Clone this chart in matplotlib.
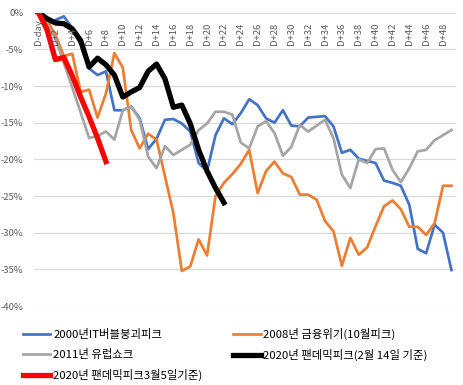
import matplotlib
matplotlib.use("Agg")
import matplotlib.pyplot as plt

plt.rcParams['font.family'] = ['Noto Sans CJK KR', 'DejaVu Sans']

# 데이터 (D-day 대비 하락률, %)
days = list(range(50))
x_labels = ["D-day"] + [f"D+{d}" for d in range(2, 50, 2)]

it_bubble_2000 = [0, -1.5, -1.0, -0.5, -2.1, -4.4, -7.6, -8.5, -8.0, -13.3,
                  -13.3, -12.8, -14.4, -18.6, -17.2, -14.6, -14.5, -15.1, -16.2, -20.5,
                  -21.6, -16.7, -14.4, -15.2, -13.7, -11.8, -12.6, -14.4, -15.0, -13.3,
                  -15.4, -15.5, -14.3, -14.2, -14.1, -15.5, -19.1, -18.7, -19.9, -20.2,
                  -20.5, -22.9, -23.2, -23.6, -26.2, -32.2, -32.8, -28.9, -30.0, -35.1]

crisis_2008 = [0, -1.0, -3.0, -5.9, -5.6, -10.8, -10.5, -14.3, -11.0, -5.5,
               -7.5, -16.0, -18.5, -16.5, -17.3, -22.3, -27.3, -35.2, -34.6, -30.9,
               -33.1, -25.0, -23.2, -22.0, -20.6, -18.7, -24.6, -21.6, -20.3, -21.9,
               -22.4, -24.8, -24.8, -25.5, -28.4, -29.8, -34.5, -30.7, -33.0, -32.0,
               -29.1, -26.4, -25.6, -26.8, -29.2, -29.2, -30.3, -28.7, -23.6, -23.6]

euro_2011 = [0, -1.5, -3.5, -6.8, -10.2, -13.6, -17.1, -16.8, -16.2, -17.3,
             -13.3, -12.8, -14.6, -19.6, -21.2, -18.2, -19.4, -18.7, -18.0, -16.0,
             -15.1, -13.5, -13.5, -13.9, -17.7, -18.5, -15.5, -14.8, -16.4, -19.5,
             -18.3, -15.3, -16.2, -15.4, -14.6, -17.1, -22.1, -23.9, -20.0, -20.5,
             -18.6, -18.5, -21.4, -23.1, -21.2, -18.9, -18.7, -17.4, -16.7, -16.0]

pandemic_feb14 = [0, -0.8, -1.4, -1.5, -2.2, -3.8, -7.4, -6.2, -7.1, -8.5,
                  -11.5, -10.8, -10.2, -8.0, -7.0, -9.0, -12.9, -12.6, -15.1, -18.7,
                  -21.6, -23.9, -25.9]

pandemic_mar5 = [0, -2.3, -6.4, -6.1, -8.6, -11.5, -14.2, -17.1, -20.3]

y_ticks = [0, -5, -10, -15, -20, -25, -30, -35, -40]

fig = plt.figure(figsize=(4.64, 3.85), dpi=100)
ax = fig.add_axes([0.074, 0.205, 0.908, 0.762])

l1, = ax.plot(days, it_bubble_2000, color='#4472C4', lw=1.95,
              label='2000년IT버블붕괴피크')
l2, = ax.plot(days, crisis_2008, color='#ED7D31', lw=1.95,
              label='2008년 금융위기(10월피크)')
l3, = ax.plot(days, euro_2011, color='#A5A5A5', lw=1.95,
              label='2011년 유럽쇼크')
l4, = ax.plot(days[:len(pandemic_feb14)], pandemic_feb14, color='black', lw=3.8,
              label='2020년 팬데믹피크(2월 14일 기준)')
l5, = ax.plot(days[:len(pandemic_mar5)], pandemic_mar5, color='#FF0000', lw=3.8,
              label='2020년 팬데믹피크3월5일기준)')

ax.set_xlim(-0.5, 49.5)
ax.set_ylim(-40, 0)
ax.set_yticks(y_ticks)
ax.set_yticklabels([f"{v}%" for v in y_ticks])
ax.tick_params(axis='y', length=0, pad=8, labelsize=6.8, labelcolor='#595959')
ax.set_xticks([])
ax.grid(axis='y', color='#D9D9D9', lw=0.8)
ax.set_axisbelow(True)
for s in ax.spines.values():
    s.set_visible(False)

# 카테고리 라벨은 위쪽 축 아래에 세로로
for i, lab in enumerate(x_labels):
    d = 0 if i == 0 else 2 * i
    ax.text(d, -4.35, lab, rotation=90, ha='center', va='bottom',
            fontsize=6.8, color='#595959')

handles = [l1, l3, l5, l2, l4]
fig.legend(handles=handles, labels=[h.get_label() for h in handles], ncol=2,
           loc='upper left', bbox_to_anchor=(0.04, 0.16), frameon=False,
           fontsize=8.2, handlelength=2.4, handletextpad=0.25,
           columnspacing=2.7, labelspacing=0.8, borderaxespad=0)

fig.savefig('out.png', dpi=100)
